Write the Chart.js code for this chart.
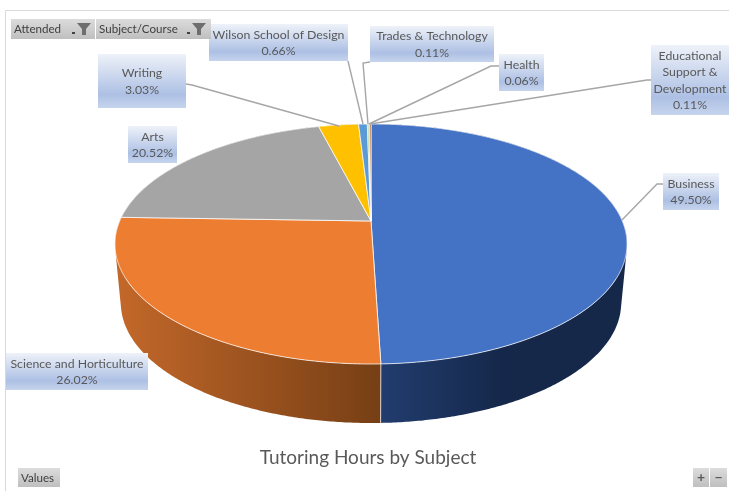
<!DOCTYPE html>
<html>
<head>
<meta charset="utf-8">
<title>Tutoring Hours by Subject</title>
<script src="https://cdn.jsdelivr.net/npm/chart.js@4"></script>
<style>
  body { margin: 0; background: #ffffff; }
  canvas { display: block; filter: blur(0.4px); }
</style>
</head>
<body>
<canvas id="tutoring-chart" width="729" height="491"></canvas>
<script>
// Values
const subjects = [
  "Business",
  "Science and Horticulture",
  "Arts",
  "Writing",
  "Wilson School of Design",
  "Trades & Technology",
  "Health",
  "Educational Support & Development",
];
const hoursShare = [49.5, 26.02, 20.52, 3.03, 0.66, 0.11, 0.06, 0.11];
const topColors = ["#4472c4", "#ed7d31", "#a5a5a5", "#ffc000", "#5b9bd5", "#70ad47", "#264478", "#9e480e"];
const wallLeftColors = ["#213c6e", "#c4682a", "#6a6a6a", "#a37b00", "#3a6a96", "#48702e", "#18294a", "#642d09"];
const wallRightColors = ["#15284a", "#763f15", "#6a6a6a", "#a37b00", "#3a6a96", "#48702e", "#18294a", "#642d09"];

// Text lines of each data label, box [x, y, w, h], leader line points
const labelLines = [
  ["Business"],
  ["Science and Horticulture"],
  ["Arts"],
  ["Writing"],
  ["Wilson School of Design"],
  ["Trades & Technology"],
  ["Health"],
  ["Educational", "Support &", "Development"],
];
const labelBoxes = [
  [663, 173, 56, 37],
  [6, 353, 142, 37],
  [128, 126, 49, 37],
  [98, 54, 88, 54],
  [209, 24, 139, 37],
  [370, 26, 124, 36],
  [499, 54, 45, 37],
  [651, 45, 78, 70],
];
const leaders = [
  [[663, 184], [657, 184], [622, 220]],
  [],
  [],
  [[186, 84], [192, 85], [339, 126]],
  [[348, 61], [363, 124]],
  [[370, 62], [363, 63], [368, 124]],
  [[499, 66], [491, 66], [369, 124]],
  [[651, 80], [647, 80], [370, 124]],
];

// Perspective of the tilted disc
const pieX = 371;
const pieY = 221;
const pieB = 251.3;
const pieA = 115.6;
const pieK = -0.1917;
const wallDrop = 59;
const wallShrink = 0.977;
const fontName = "Lato, 'Open Sans', sans-serif";
const textColor = "#595959";

function project(angle) {
  const u = Math.cos(angle);
  const s = Math.sin(angle);
  const w = 1 + pieK * s;
  return [pieX + (pieB * u) / w, pieY + (pieA * s) / w];
}

function projectBase(angle) {
  const p = project(angle);
  return [pieX + (p[0] - pieX) * wallShrink, p[1] + wallDrop];
}

function arcSteps(arc) {
  return Math.max(2, Math.ceil((arc.endAngle - arc.startAngle) * 120));
}

function drawWall(ctx, arc, i) {
  const grad = ctx.createLinearGradient(i === 0 ? 381 : 115, 0, i === 0 ? 627 : 381, 0);
  grad.addColorStop(0, wallLeftColors[i]);
  if (i === 0) grad.addColorStop(0.5, wallRightColors[i]);
  grad.addColorStop(1, wallRightColors[i]);
  ctx.fillStyle = grad;
  const steps = arcSteps(arc);
  // all quads go in one path, wound the same way, so no seams show between them
  ctx.beginPath();
  for (let k = 0; k < steps; k++) {
    const a0 = arc.startAngle + ((arc.endAngle - arc.startAngle) * k) / steps;
    const a1 = arc.startAngle + ((arc.endAngle - arc.startAngle) * (k + 1)) / steps;
    let quad = [project(a0), project(a1), projectBase(a1), projectBase(a0)];
    let area = 0;
    quad.forEach((p, n) => {
      const q = quad[(n + 1) % 4];
      area += p[0] * q[1] - q[0] * p[1];
    });
    if (area < 0) quad = quad.reverse();
    quad.forEach((p, n) => (n ? ctx.lineTo(p[0], p[1]) : ctx.moveTo(p[0], p[1])));
    ctx.closePath();
  }
  ctx.fill("nonzero");
}

function drawTop(ctx, arc, i) {
  const steps = arcSteps(arc);
  ctx.beginPath();
  ctx.moveTo(pieX, pieY);
  for (let k = 0; k <= steps; k++) {
    const p = project(arc.startAngle + ((arc.endAngle - arc.startAngle) * k) / steps);
    ctx.lineTo(p[0], p[1]);
  }
  ctx.closePath();
  ctx.fillStyle = topColors[i];
  ctx.fill();
  ctx.strokeStyle = "rgba(255, 255, 255, 0.75)";
  ctx.lineWidth = 1;
  ctx.stroke();
}

function drawLabel(ctx, i) {
  const box = labelBoxes[i];
  const grad = ctx.createLinearGradient(0, box[1], 0, box[1] + box[3]);
  grad.addColorStop(0, "#eef2f9");
  grad.addColorStop(0.75, "#adc0e4");
  grad.addColorStop(1, "#c6d4ed");
  ctx.fillStyle = grad;
  ctx.fillRect(box[0], box[1], box[2], box[3]);

  const lines = labelLines[i].concat([hoursShare[i].toFixed(2) + "%"]);
  ctx.fillStyle = textColor;
  ctx.font = "12.3px " + fontName;
  ctx.textAlign = "center";
  ctx.textBaseline = "middle";
  const lineGap = 16.5;
  const firstY = box[1] + box[3] / 2 - ((lines.length - 1) * lineGap) / 2 + 0.7;
  lines.forEach((line, n) => {
    ctx.fillText(line, box[0] + box[2] / 2, firstY + n * lineGap);
  });
}

function drawLeader(ctx, points) {
  if (!points.length) return;
  ctx.strokeStyle = "#a6a6a6";
  ctx.lineWidth = 1.4;
  ctx.beginPath();
  points.forEach((p, n) => (n ? ctx.lineTo(p[0], p[1]) : ctx.moveTo(p[0], p[1])));
  ctx.stroke();
}

function drawButton(ctx, x, y, w, h, text) {
  const grad = ctx.createLinearGradient(0, y, 0, y + h);
  grad.addColorStop(0, "#dcdcdc");
  grad.addColorStop(1, "#bfbfbf");
  ctx.fillStyle = grad;
  ctx.fillRect(x, y, w, h);
  ctx.fillStyle = "#404040";
  ctx.font = "11.6px " + fontName;
  ctx.textAlign = "left";
  ctx.textBaseline = "middle";
  ctx.fillText(text, x + 3, y + h / 2 + 0.5);
}

function drawFunnel(ctx, x, y) {
  ctx.fillStyle = "#6e6e6e";
  ctx.beginPath();
  ctx.moveTo(x, y);
  ctx.lineTo(x + 14, y);
  ctx.lineTo(x + 9, y + 6);
  ctx.lineTo(x + 9, y + 12);
  ctx.lineTo(x + 5, y + 12);
  ctx.lineTo(x + 5, y + 6);
  ctx.closePath();
  ctx.fill();
  // small drop arrow beside the funnel
  ctx.fillStyle = "#404040";
  ctx.fillRect(x - 5, y + 9, 3, 2);
}

const pie3dPlugin = {
  id: "pie3d",
  beforeDraw(chart) {
    const ctx = chart.ctx;
    ctx.save();
    ctx.strokeStyle = "#d9d9d9";
    ctx.lineWidth = 1;
    ctx.beginPath();
    ctx.moveTo(5.5, 491);
    ctx.lineTo(5.5, 10.5);
    ctx.lineTo(729, 10.5);
    ctx.stroke();
    ctx.restore();
  },
  beforeDatasetsDraw(chart) {
    const ctx = chart.ctx;
    const arcs = chart.getDatasetMeta(0).data;
    ctx.save();
    arcs.forEach((arc, i) => drawWall(ctx, arc, i));
    arcs.forEach((arc, i) => drawTop(ctx, arc, i));
    // seam between the two visible walls
    const seam = arcs[0].endAngle;
    const t = project(seam);
    const b = projectBase(seam);
    ctx.strokeStyle = "rgba(255, 255, 255, 0.7)";
    ctx.lineWidth = 1;
    ctx.beginPath();
    ctx.moveTo(t[0], t[1]);
    ctx.lineTo(b[0], b[1]);
    ctx.stroke();
    ctx.restore();
    return false;
  },
  afterDraw(chart) {
    const ctx = chart.ctx;
    ctx.save();
    leaders.forEach((points) => drawLeader(ctx, points));
    subjects.forEach((name, i) => drawLabel(ctx, i));

    drawButton(ctx, 11, 19, 84, 20, "Attended");
    drawButton(ctx, 96, 19, 115, 20, "Subject/Course");
    drawFunnel(ctx, 77, 23);
    drawFunnel(ctx, 192, 23);
    drawButton(ctx, 18, 468, 42, 19, "Values");
    drawButton(ctx, 693, 468, 16, 19, "");
    drawButton(ctx, 710, 468, 17, 19, "");
    ctx.fillStyle = "#595959";
    ctx.font = "bold 14px " + fontName;
    ctx.textAlign = "center";
    ctx.textBaseline = "middle";
    ctx.fillText("+", 701, 477);
    ctx.fillText("−", 718.5, 477);
    ctx.restore();
  },
};

const tutoringCtx = document.getElementById("tutoring-chart").getContext("2d");
new Chart(tutoringCtx, {
  type: "pie",
  data: {
    labels: subjects,
    datasets: [
      {
        data: hoursShare,
        backgroundColor: topColors,
        borderWidth: 0,
      },
    ],
  },
  options: {
    responsive: false,
    animation: false,
    layout: {
      padding: { left: 7, bottom: 22 },
    },
    plugins: {
      legend: { display: false },
      tooltip: { enabled: false },
      title: {
        display: true,
        position: "bottom",
        text: "Tutoring Hours by Subject",
        color: textColor,
        font: {
          family: fontName,
          size: 19,
          weight: "normal",
        },
        padding: 0,
      },
    },
  },
  plugins: [pie3dPlugin],
});
</script>
</body>
</html>
